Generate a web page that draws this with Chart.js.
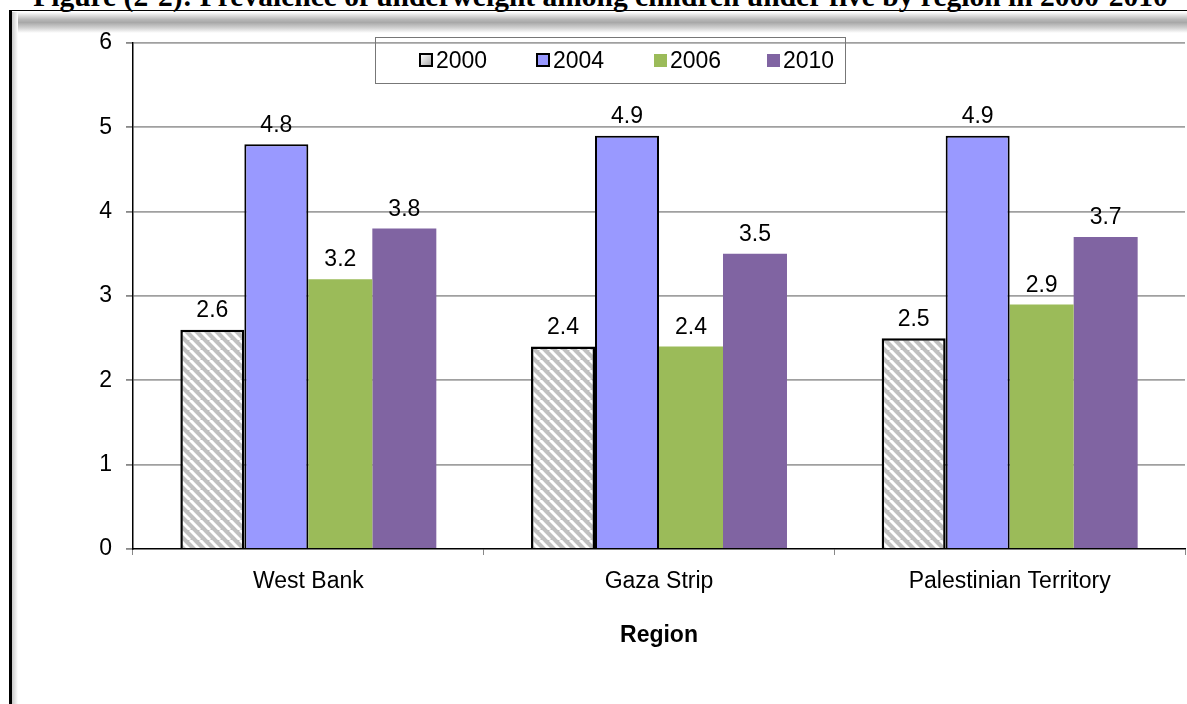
<!DOCTYPE html>
<html>
<head>
<meta charset="utf-8">
<script src="https://cdn.jsdelivr.net/npm/chart.js@4"></script>
<style>
  html, body { margin: 0; padding: 0; background: #fff; }
  #page { position: relative; width: 1187px; height: 704px; overflow: hidden; font-family: Arial, "Liberation Sans", sans-serif; }
  #fig-title { position: absolute; left: 0; width: 1201px; top: -20px; line-height: 30px; text-align: center;
    font: bold 29.5px "Liberation Serif", "Times New Roman", serif; white-space: nowrap; }
  #frame { position: absolute; left: 9px; top: 10px; width: 1190px; height: 700px; border-top: 1.5px solid #000; border-left: 3px solid #000; }
  #shade-top { position: absolute; left: 12px; top: 12px; width: 1175px; height: 21px;
    background: linear-gradient(to bottom, #fff 0%, #b8b8b8 35%, #a8a8a8 50%, #d0d0d0 75%, #fff 100%); }
  #shade-left { position: absolute; left: 12px; top: 12px; width: 6px; height: 692px;
    background: linear-gradient(to right, #c8c8c8, #fff); }
  #wrap { position: absolute; left: 0; top: 0; width: 1187px; height: 704px; }
  #legend { position: absolute; left: 375px; top: 37px; width: 469px; height: 45px; border: 1px solid #777; }
  .item { position: absolute; top: 9px; font-size: 23px; line-height: 26px; color: #000; }
  .mark { display: inline-block; width: 10px; height: 10px; margin-right: 3px; vertical-align: 1px; }
</style>
</head>
<body>
<div id="page">
  <div id="fig-title">Figure (2-2): Prevalence of underweight among children under five by region in 2000-2010</div>
  <div id="frame"></div>
  <div id="shade-top"></div>
  <div id="shade-left"></div>
  <div id="wrap"><canvas id="chart"></canvas></div>
  <div id="legend"></div>
</div>
<script>
// categories and values
const regions = ["West Bank", "Gaza Strip", "Palestinian Territory"];
const years = ["2000", "2004", "2006", "2010"];
const v2000 = [2.6, 2.4, 2.5];
const v2004 = [4.8, 4.9, 4.9];
const v2006 = [3.2, 2.4, 2.9];
const v2010 = [3.8, 3.5, 3.7];
const yTicks = [0, 1, 2, 3, 4, 5, 6];

// grey bar with white diagonal stripes for 2000
function makeHatch() {
    const c = document.createElement("canvas");
    c.width = 10; c.height = 10;
    const g = c.getContext("2d");
    g.fillStyle = "#c0c0c0";
    g.fillRect(0, 0, 10, 10);
    g.strokeStyle = "#fff";
    g.lineWidth = 3;
    for (let o = -10; o <= 10; o += 10) {
        g.beginPath();
        g.moveTo(o, 0);
        g.lineTo(o + 10, 10);
        g.stroke();
    }
    return g.createPattern(c, "repeat");
}
const hatch = makeHatch();

// html legend, sits on top of the plot like the original
const legendItems = [
    { label: years[0], left: 43, style: "background:linear-gradient(135deg,#fff,#aaa);border:2px solid #000;" },
    { label: years[1], left: 160, style: "background:#9999ff;border:2px solid #000;" },
    { label: years[2], left: 278, style: "background:#9bbb59;width:13px;height:13px;" },
    { label: years[3], left: 391, style: "background:#8064a2;width:13px;height:13px;" }
];
legendItems.forEach(it => {
    const d = document.createElement("div");
    d.className = "item";
    d.style.left = it.left + "px";
    d.innerHTML = `<span class="mark" style="${it.style}"></span>${it.label}`;
    document.getElementById("legend").appendChild(d);
});

// numbers above every bar
const valueLabels = {
    id: "valueLabels",
    afterDatasetsDraw(chart) {
        const ctx = chart.ctx;
        ctx.save();
        ctx.font = "23px Arial, 'Liberation Sans'";
        ctx.fillStyle = "#000";
        ctx.textAlign = "center";
        ctx.textBaseline = "middle";
        chart.data.datasets.forEach((ds, i) => {
            chart.getDatasetMeta(i).data.forEach((bar, j) => {
                ctx.fillText(ds.data[j].toFixed(1), bar.x, bar.y - 19);
            });
        });
        ctx.restore();
    }
};

Chart.defaults.font.family = "Arial, 'Liberation Sans', sans-serif";
Chart.defaults.color = "#000";

const myChart = new Chart(document.getElementById("chart"), {
    type: "bar",
    data: {
        labels: regions,
        datasets: [
            { label: years[0], data: v2000, backgroundColor: hatch, borderColor: "#000", borderWidth: 2.5 },
            { label: years[1], data: v2004, backgroundColor: "#9999ff", borderColor: "#000", borderWidth: 2 },
            { label: years[2], data: v2006, backgroundColor: "#9bbb59", borderWidth: 0 },
            { label: years[3], data: v2010, backgroundColor: "#8064a2", borderWidth: 0 }
        ]
    },
    options: {
        responsive: true,
        maintainAspectRatio: false,
        animation: false,
        layout: { padding: { top: 43, right: 2, bottom: 55, left: 0 } },
        datasets: { bar: { barPercentage: 1, categoryPercentage: 0.73 } },
        plugins: { legend: { display: false }, tooltip: { enabled: false } },
        scales: {
            x: {
                afterFit: s => { s.height = 100; },
                grid: { drawOnChartArea: false, tickLength: 6, tickColor: "#888", lineWidth: 1 },
                border: { color: "#000", width: 1.5 },
                ticks: { font: { size: 23 }, padding: 13 },
                title: { display: true, text: "Region", font: { size: 23, weight: "bold" }, padding: { top: 0, bottom: 0 } }
            },
            y: {
                min: yTicks[0],
                max: yTicks[yTicks.length - 1],
                afterFit: s => { s.width = 133; },
                afterBuildTicks: s => { s.ticks = yTicks.map(v => ({ value: v })); },
                grid: {
                    color: c => c.tick.value === 0 ? "rgba(0,0,0,0)" : "#a0a0a0",
                    lineWidth: 1.8, tickLength: 7, tickColor: "#888"
                },
                border: { color: "#000", width: 1.5 },
                ticks: { font: { size: 23 }, padding: 14 }
            }
        }
    },
    plugins: [valueLabels]
});
</script>
</body>
</html>
